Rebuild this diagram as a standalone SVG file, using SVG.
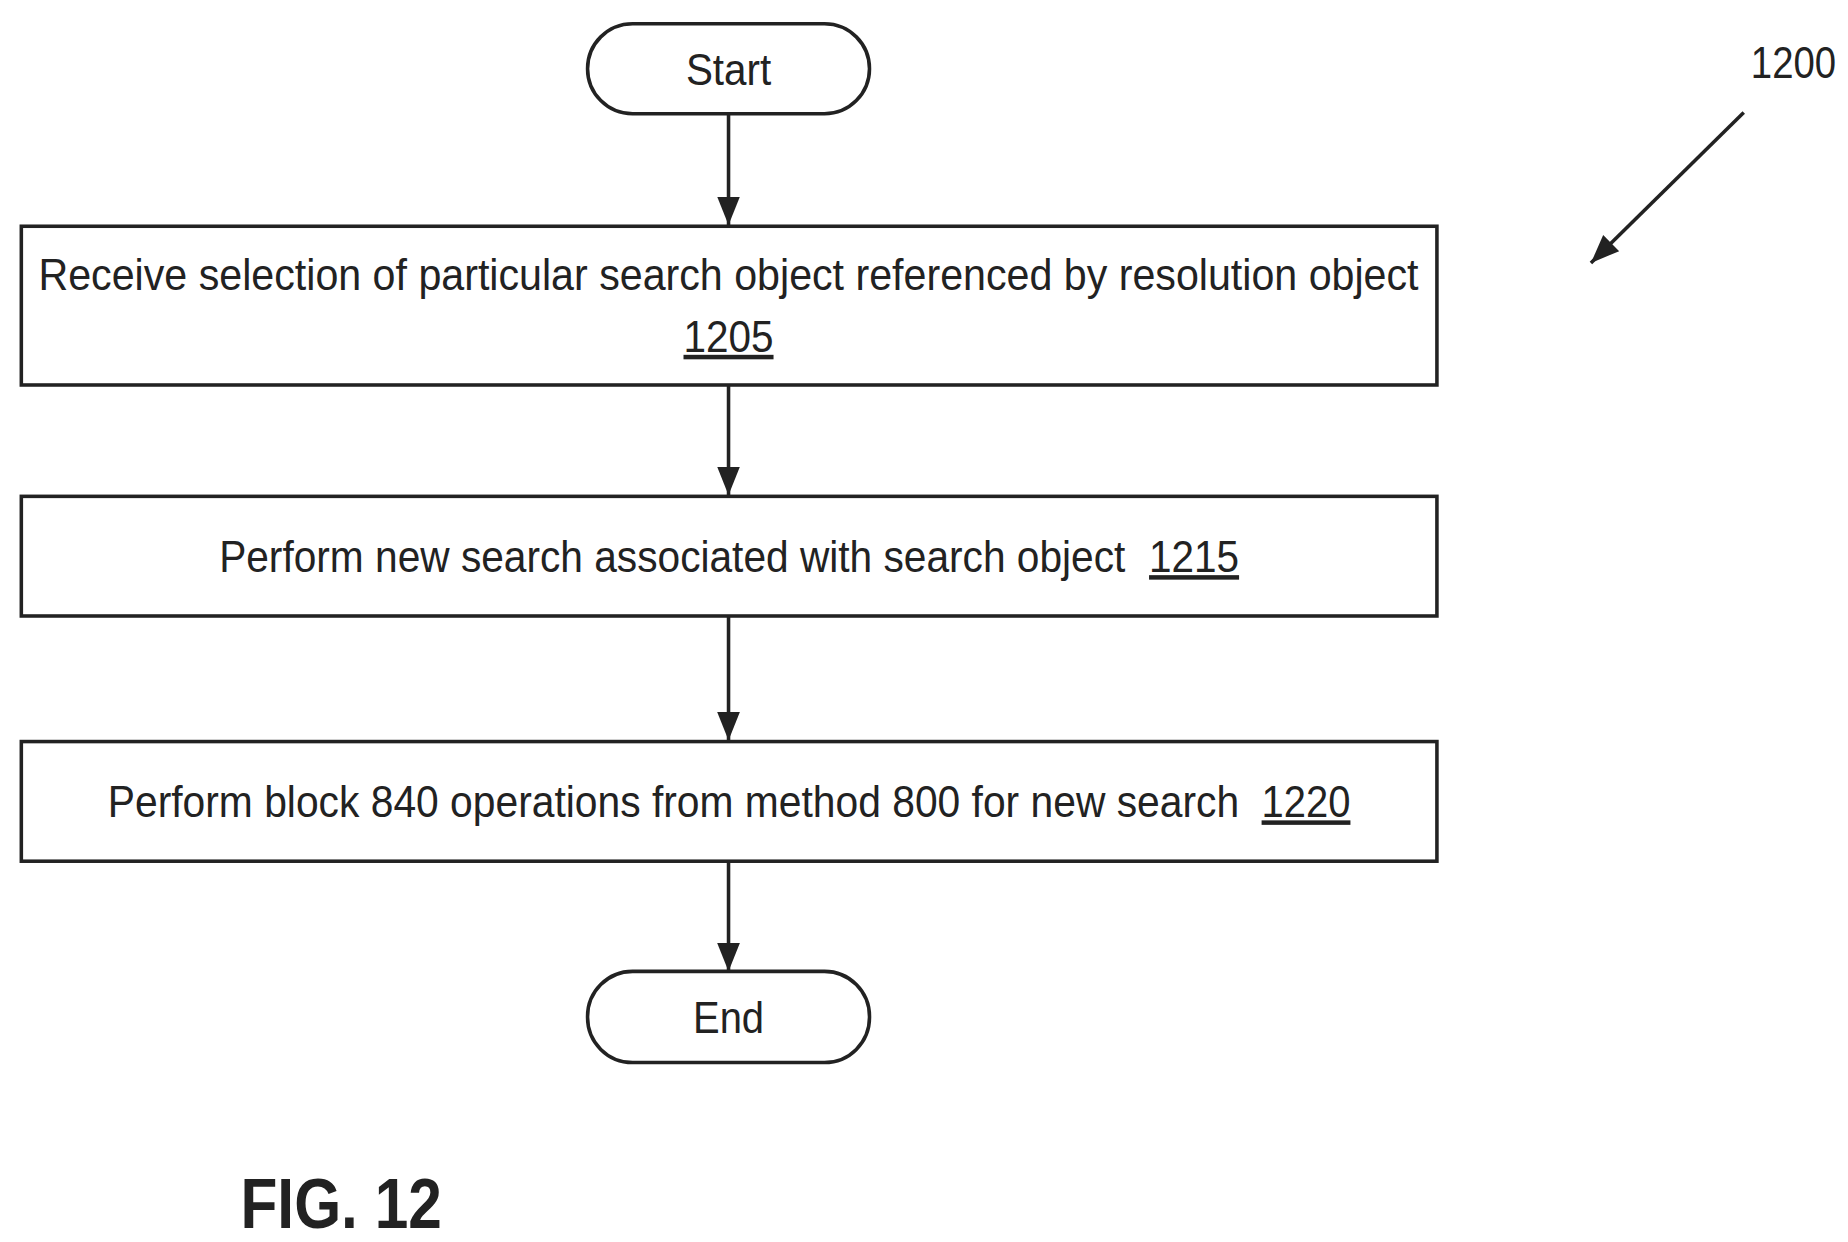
<svg xmlns="http://www.w3.org/2000/svg" width="1848" height="1242" viewBox="0 0 1848 1242">
<style>
.n{fill:#fff;stroke:#222;stroke-width:3}
.t{font-family:"Liberation Sans",Arial,sans-serif;font-size:38px;fill:#222;text-anchor:middle}
.s{font-family:"Liberation Sans",Arial,sans-serif;font-size:38px;fill:#222}
.c{stroke:#222;stroke-width:3;fill:none}
</style>
<defs>
<marker id="b" markerWidth="24" markerHeight="24" refX="20" refY="10" orient="auto" markerUnits="userSpaceOnUse" viewBox="0 0 20 20"><path d="M0,2L20,10L0,18Z" fill="#222"/></marker></defs>
<rect width="1848" height="1242" fill="#fff"/>
<g transform="scale(1.1846)">
<g id="connectors">
<line class="c" x1="615" y1="96" x2="615" y2="190" marker-end="url(#b)"/>
<line class="c" x1="615" y1="325" x2="615" y2="418" marker-end="url(#b)"/>
<line class="c" x1="615" y1="520" x2="615" y2="625" marker-end="url(#b)"/>
<line class="c" x1="615" y1="727" x2="615" y2="820" marker-end="url(#b)"/>
<line class="c" x1="1472" y1="95" x2="1343" y2="222" marker-end="url(#b)"/>
</g>
<g id="start"><rect class="n" x="496" y="20" width="238" height="76" rx="38"/><text class="t" x="615" y="72" textLength="72" lengthAdjust="spacingAndGlyphs">Start</text></g>
<g id="n1205"><rect class="n" x="18" y="191" width="1195" height="134"/>
<text class="t" x="615" y="245" textLength="1165" lengthAdjust="spacingAndGlyphs">Receive selection of particular search object referenced by resolution object</text>
<text class="t" x="615" y="297" textLength="76" lengthAdjust="spacingAndGlyphs" text-decoration="underline">1205</text></g>
<g id="n1215"><rect class="n" x="18" y="419" width="1195" height="101"/>
<text class="s" x="185" y="483" textLength="765" lengthAdjust="spacingAndGlyphs">Perform new search associated with search object</text>
<text class="s" x="970" y="483" textLength="76" lengthAdjust="spacingAndGlyphs" text-decoration="underline">1215</text></g>
<g id="n1220"><rect class="n" x="18" y="626" width="1195" height="101"/>
<text class="s" x="91" y="690" textLength="955" lengthAdjust="spacingAndGlyphs">Perform block 840 operations from method 800 for new search</text>
<text class="s" x="1065" y="690" textLength="75" lengthAdjust="spacingAndGlyphs" text-decoration="underline">1220</text></g>
<g id="end"><rect class="n" x="496" y="820" width="238" height="77" rx="38"/><text class="t" x="615" y="872" textLength="60" lengthAdjust="spacingAndGlyphs">End</text></g>
<text class="t" x="1514" y="66" textLength="72" lengthAdjust="spacingAndGlyphs">1200</text>
<text x="203" y="1037" font-family="Liberation Sans,Arial,sans-serif" font-weight="bold" font-size="60" fill="#222" textLength="170" lengthAdjust="spacingAndGlyphs">FIG. 12</text>
</g>
</svg>
